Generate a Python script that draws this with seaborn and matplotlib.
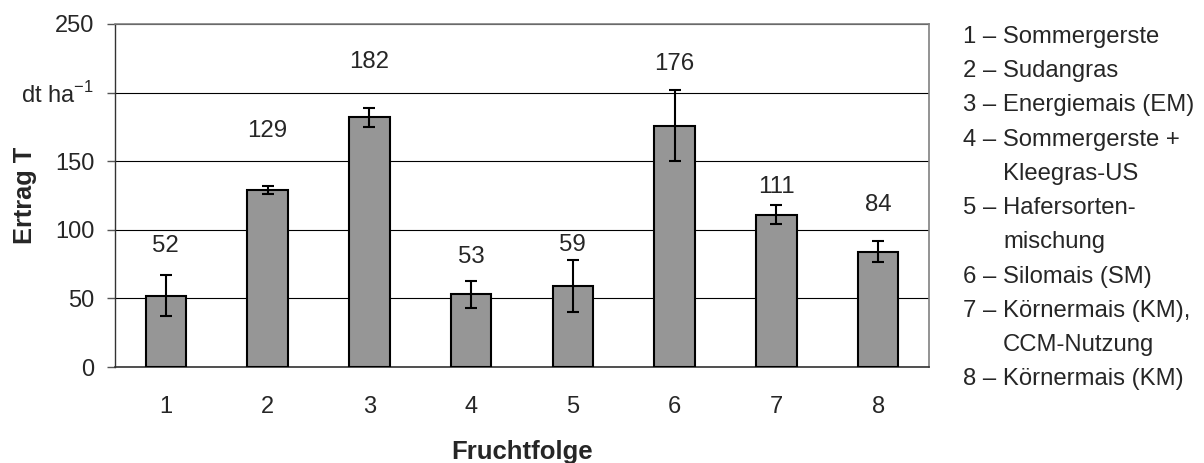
import matplotlib
matplotlib.use("Agg")
import matplotlib.pyplot as plt
import seaborn as sns
import numpy as np

# data
fruchtfolge = ['1', '2', '3', '4', '5', '6', '7', '8']
ertrag = [52, 129, 182, 53, 59, 176, 111, 84]
fehler = [15, 3, 7, 10, 19, 26, 7, 7.5]
label_hoehe = [88, 172, 222, 80, 89, 221, 131, 118]
y_ticks = [0, 50, 100, 150, 200, 250]
y_ticklabels = ['0', '50', '100', '150', 'dt ha$^{-1}$', '250']
legende = [
    ['1 – Sommergerste'],
    ['2 – Sudangras'],
    ['3 – Energiemais (EM)'],
    ['4 – Sommergerste +', 'Kleegras-US'],
    ['5 – Hafersorten-', 'mischung'],
    ['6 – Silomais (SM)'],
    ['7 – Körnermais (KM),', 'CCM-Nutzung'],
    ['8 – Körnermais (KM)'],
]

sns.set_style("white")
plt.rcParams['font.family'] = ['Liberation Sans', 'DejaVu Sans']
plt.rcParams['mathtext.fontset'] = 'custom'
plt.rcParams['mathtext.rm'] = 'Liberation Sans'

fig = plt.figure(figsize=(12.04, 4.63), dpi=100)
ax = fig.add_axes([0.0955, 0.2073, 0.6761, 0.7409])

sns.barplot(x=fruchtfolge, y=ertrag, color='#969696', saturation=1,
            edgecolor='black', linewidth=1.5, width=0.4, ax=ax, zorder=3)
pos = np.arange(len(fruchtfolge))
ax.errorbar(pos, ertrag, yerr=fehler, fmt='none', ecolor='black',
            elinewidth=1.5, capsize=4, capthick=1.5, zorder=4)

for p, txt, h in zip(pos, ertrag, label_hoehe):
    ax.text(p, h, str(txt), ha='center', va='center', fontsize=17.3)

ax.set_xlim(-0.5, len(fruchtfolge) - 0.5)
ax.set_ylim(0, 250)
ax.set_yticks(y_ticks)
ax.set_yticklabels(y_ticklabels)
ax.yaxis.grid(True, color='black', linewidth=0.8)
ax.set_axisbelow(True)

ax.set_xticks(np.arange(-0.5, len(fruchtfolge)), minor=True)
ax.tick_params(axis='x', which='major', length=0, pad=21, labelsize=17)
ax.tick_params(axis='x', which='minor', length=7, width=1, color='#555555', direction='out')
ax.tick_params(axis='y', which='major', length=6, width=1, color='#555555', direction='out',
               pad=9, labelsize=17, left=True)

for s in ['top', 'right']:
    ax.spines[s].set_color('#808080')
    ax.spines[s].set_linewidth(1.2)
ax.spines['left'].set_color('#333333')
ax.spines['bottom'].set_color('#333333')
ax.spines['left'].set_linewidth(1.0)
ax.spines['bottom'].set_linewidth(1.2)

ax.set_xlabel('Fruchtfolge', fontsize=18.5, fontweight='bold')
ax.set_ylabel('Ertrag T', fontsize=18.3, fontweight='bold')
ax.xaxis.set_label_coords(0.5, -0.248)
ax.xaxis.label.set_va('center')
ax.yaxis.set_label_coords(-0.1106, 0.5)
ax.yaxis.label.set_va('center')

# legend text on the right
y_px = 36.7
for eintrag in legende:
    for i, zeile in enumerate(eintrag):
        x_px = 963 if i == 0 else 1003
        fig.text(x_px / 1204, 1 - y_px / 463, zeile, ha='left', va='center', fontsize=17.2)
        y_px += 34.27

fig.savefig('out.png', dpi=100)
